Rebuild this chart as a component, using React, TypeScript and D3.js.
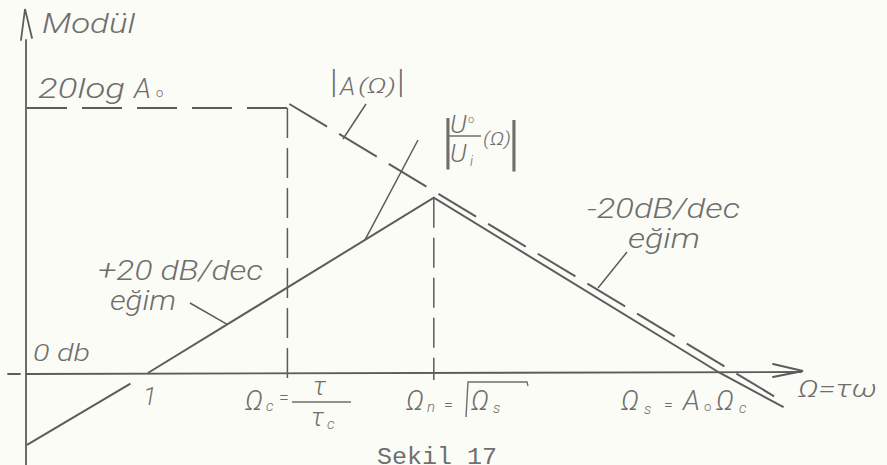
import React from "react";
import * as d3 from "d3";

// Normalised frequency Ω = τω (log axis) and gain in dB
const openLoopOmega = [0.136, 10, 36000];
const openLoopDb = [62, 62, -8];

// closed-loop asymptote |U0/Ui|(Ω): rises at +20 dB/dec, falls at -20 dB/dec
const closedLowOmega = [0.136, 0.75];
const closedLowDb = [-16.8, -2.5];
const closedOmega = [1, 112, 12600, 36000];
const closedDb = [0, 41, 0, -8];

// characteristic frequencies: Ωc (corner), Ωn (peak)
const cornerOmega = 10;
const peakOmega = 112;
const peakDb = 41;
const plateauDb = 62;

const W = 887;
const H = 465;
const INK = "#5c5c5c";
const TEXT = "#6e6e6e";
const HAND = "Roboto, 'Liberation Sans', Arial, sans-serif";

const x = d3.scaleLog().domain([0.136, 49600]).range([27, 803]);
const y = d3.scaleLinear().domain([0, 62]).range([373, 108]);

const line = d3
  .line<[number, number]>()
  .x((d) => x(d[0]))
  .y((d) => y(d[1]));

const zip = (a: number[], b: number[]) =>
  a.map((v, i) => [v, b[i]] as [number, number]);

export default function App() {
  const openPts = zip(openLoopOmega, openLoopDb);
  const x0 = x.range()[0];
  const xEnd = x.range()[1];
  const axisY = y(0);

  return (
    <svg
      width={W}
      height={H}
      style={{ position: "absolute", left: 0, top: 0, background: "#fbfcf6" }}
    >
      <rect width={W} height={H} fill="#fbfcf6" />

      {/* axes */}
      <g stroke={INK} strokeWidth={1.8} fill="none" strokeLinecap="round">
        <line x1={x0 - 1} y1={40} x2={x0 - 1} y2={H} />
        <path d={`M${x0 - 6},40 L${x0 - 2},9 L${x0 + 5},38`} />
        <line x1={8} y1={axisY + 1} x2={20} y2={axisY + 1} />
        <line x1={x0} y1={axisY + 1} x2={xEnd - 2} y2={axisY - 1} />
        <path d={`M${xEnd - 30},${axisY - 9} L${xEnd},${axisY - 2} L${xEnd - 30},${axisY + 4}`} />
      </g>

      {/* |A(Ω)| asymptote, dashed */}
      <g stroke={INK} strokeWidth={2} fill="none" strokeDasharray="40,15">
        <path d={line(openPts.slice(0, 2)) || ""} />
        <path
          d={line(openPts.slice(1)) || ""}
          transform="translate(2,-4)"
          strokeDasharray="44,14"
        />
      </g>

      {/* guide verticals at Ωc and Ωn */}
      <g stroke={INK} strokeWidth={1.5} fill="none" strokeDasharray="30,10">
        <line x1={x(cornerOmega)} y1={y(plateauDb)} x2={x(cornerOmega)} y2={axisY + 8} />
        <line x1={x(peakOmega)} y1={y(peakDb)} x2={x(peakOmega)} y2={axisY + 7} />
      </g>

      {/* |U0/Ui|(Ω) asymptote, solid */}
      <g stroke={INK} strokeWidth={2} fill="none" strokeLinejoin="miter">
        <path d={line(zip(closedLowOmega, closedLowDb)) || ""} />
        <path d={line(zip(closedOmega, closedDb)) || ""} />
      </g>

      {/* leader lines */}
      <g stroke={INK} strokeWidth={1.5} fill="none">
        <line x1={366} y1={104} x2={343} y2={139} />
        <line x1={418} y1={140} x2={x(36)} y2={y(20 * Math.log10(36))} />
        <line x1={190} y1={303} x2={x(3.7)} y2={y(20 * Math.log10(3.7))} />
        <line x1={627} y1={252} x2={598} y2={288} />
      </g>

      <g fill={TEXT} fontFamily={HAND} fontStyle="italic" fontWeight={300}>
        <text x={42} y={33} fontSize={27} textLength={93} lengthAdjust="spacingAndGlyphs">
          Modül
        </text>

        <text x={38} y={98} fontSize={27} textLength={87} lengthAdjust="spacingAndGlyphs">
          20log
        </text>
        <text x={134} y={98} fontSize={28}>A</text>
        <text x={156} y={97} fontSize={13} fontStyle="normal">o</text>

        {/* |A(Ω)| */}
        <text x={330} y={93} fontSize={34} fontStyle="normal">|</text>
        <text x={340} y={95} fontSize={25}>A</text>
        <text x={358} y={93} fontSize={20} textLength={38} lengthAdjust="spacingAndGlyphs">
          (Ω)
        </text>
        <text x={397} y={93} fontSize={34} fontStyle="normal">|</text>

        {/* |U0/Ui (Ω)| */}
        <text x={441} y={162} fontSize={62} fontStyle="normal">|</text>
        <text x={450} y={133} fontSize={26}>U</text>
        <text x={468} y={123} fontSize={11} fontStyle="normal">o</text>
        <text x={450} y={162} fontSize={26}>U</text>
        <text x={470} y={166} fontSize={14}>i</text>
        <text x={483} y={145} fontSize={18} textLength={28} lengthAdjust="spacingAndGlyphs">
          (Ω)
        </text>
        <text x={507} y={164} fontSize={62} fontStyle="normal">|</text>

        <text x={587} y={218} fontSize={27} textLength={153} lengthAdjust="spacingAndGlyphs">
          -20dB/dec
        </text>
        <text x={628} y={248} fontSize={27} textLength={72} lengthAdjust="spacingAndGlyphs">
          eğim
        </text>

        <text x={98} y={280} fontSize={27} textLength={165} lengthAdjust="spacingAndGlyphs">
          +20 dB/dec
        </text>
        <text x={110} y={310} fontSize={27} textLength={66} lengthAdjust="spacingAndGlyphs">
          eğim
        </text>

        <text x={33} y={361} fontSize={23} textLength={57} lengthAdjust="spacingAndGlyphs">
          0 db
        </text>
        <text x={143} y={405} fontSize={25}>1</text>

        {/* Ωc = τ/τc */}
        <text x={245} y={410} fontSize={28}>Ω</text>
        <text x={266} y={411} fontSize={15}>c</text>
        <text x={279} y={404} fontSize={18} fontStyle="normal">=</text>
        <text x={313} y={395} fontSize={26}>τ</text>
        <text x={311} y={426} fontSize={26}>τ</text>
        <text x={327} y={429} fontSize={15}>c</text>

        {/* Ωn = √Ωs */}
        <text x={406} y={410} fontSize={28}>Ω</text>
        <text x={427} y={412} fontSize={15}>n</text>
        <text x={444} y={410} fontSize={16} fontStyle="normal">=</text>
        <text x={471} y={410} fontSize={28}>Ω</text>
        <text x={493} y={413} fontSize={15}>s</text>

        {/* Ωs = A0 Ωc */}
        <text x={621} y={410} fontSize={28}>Ω</text>
        <text x={644} y={414} fontSize={15}>s</text>
        <text x={664} y={410} fontSize={16} fontStyle="normal">=</text>
        <text x={683} y={410} fontSize={28}>A</text>
        <text x={704} y={411} fontSize={13} fontStyle="normal">o</text>
        <text x={716} y={410} fontSize={28}>Ω</text>
        <text x={739} y={413} fontSize={15}>c</text>

        <text x={798} y={397} fontSize={23} textLength={79} lengthAdjust="spacingAndGlyphs">
          Ω=τω
        </text>
      </g>

      {/* fraction bars and radical */}
      <g stroke={TEXT} strokeWidth={1.4} fill="none">
        <line x1={448} y1={136} x2={481} y2={136} />
        <line x1={292} y1={402} x2={351} y2={402} />
        <path d="M466,417 L468,382 L527,382 L528,386" />
      </g>

      <text
        x={377}
        y={464}
        fontSize={23}
        fill="#6f6f6f"
        fontFamily="'Liberation Mono', 'DejaVu Sans Mono', monospace"
        textLength={120}
        lengthAdjust="spacingAndGlyphs"
      >
        Sekil 17
      </text>
    </svg>
  );
}
